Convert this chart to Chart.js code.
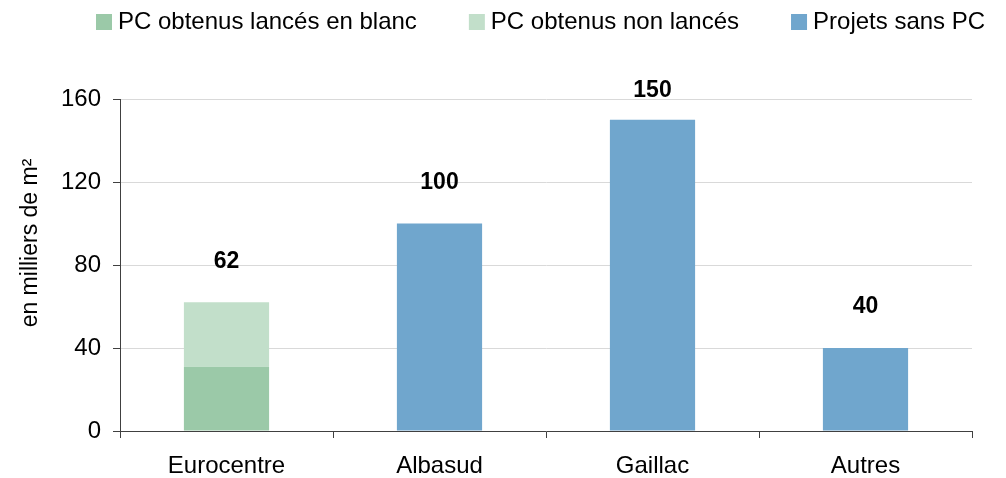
<!DOCTYPE html>
<html><head><meta charset="utf-8">
<script src="https://cdn.jsdelivr.net/npm/chart.js@4/dist/chart.umd.min.js"></script>
<style>html,body{margin:0;padding:0;background:#fff;}#wrap{width:1006px;height:478px;}</style>
</head><body><div id="wrap"><canvas id="c" width="1006" height="478"></canvas></div>
<script>
const categories = ["Eurocentre", "Albasud", "Gaillac", "Autres"];
const pcLances = [31, 0, 0, 0];
const pcNonLances = [31, 0, 0, 0];
const sansPC = [0, 100, 150, 40];
const seriesNames = ["PC obtenus lancés en blanc", "PC obtenus non lancés", "Projets sans PC"];
const seriesColors = ['#9bc9a8', '#c2dfca', '#70a6cd'];
const yTicks = [0, 40, 80, 120, 160];
const yTitle = "en milliers de m²";

const FONT = "'Liberation Sans', Arial, sans-serif";

const totalsPlugin = {
  id: 'totals',
  afterDatasetsDraw(chart) {
    const ctx = chart.ctx;
    const xs = chart.scales.x, ys = chart.scales.y;
    ctx.save();
    ctx.font = "bold 23px " + FONT;
    ctx.fillStyle = "#000";
    ctx.textAlign = "center";
    ctx.textBaseline = "middle";
    categories.forEach((c, i) => {
      const total = pcLances[i] + pcNonLances[i] + sansPC[i];
      const x = xs.getPixelForValue(i);
      let y = ys.getPixelForValue(total) - 41;
      if (y < 91) y = 91;
      ctx.fillText(String(total), x, y);
    });
    ctx.restore();
  }
};

const legendAndTitlePlugin = {
  id: 'legendTitle',
  afterDraw(chart) {
    const ctx = chart.ctx;
    ctx.save();
    ctx.font = "24px " + FONT;
    ctx.textBaseline = "middle";
    ctx.textAlign = "left";
    let x = 96;
    const cy = 22;
    const box = 16, gapText = 6, gapItem = 52;
    seriesNames.forEach((name, i) => {
      ctx.fillStyle = chart.data.datasets[i].backgroundColor;
      ctx.fillRect(x, cy - 8, box, box);
      ctx.fillStyle = '#000';
      ctx.fillText(name, x + box + gapText, cy);
      x += box + gapText + ctx.measureText(name).width + gapItem;
    });
    ctx.translate(31, 243);
    ctx.rotate(-Math.PI / 2);
    ctx.textAlign = "center";
    ctx.font = "23px " + FONT;
    ctx.fillText(yTitle, 0, 0);
    ctx.restore();
  }
};

new Chart(document.getElementById('c'), {
  type: 'bar',
  data: {
    labels: categories,
    datasets: [
      { label: seriesNames[0], data: pcLances, backgroundColor: seriesColors[0] },
      { label: seriesNames[1], data: pcNonLances, backgroundColor: seriesColors[1] },
      { label: seriesNames[2], data: sansPC, backgroundColor: seriesColors[2] }
    ]
  },
  options: {
    responsive: false,
    animation: false,
    devicePixelRatio: 1,
    layout: { padding: { left: 0, right: 34, top: 99, bottom: 0 } },
    datasets: { bar: { categoryPercentage: 0.4, barPercentage: 1.0 } },
    plugins: {
      legend: { display: false },
      tooltip: { enabled: false }
    },
    scales: {
      x: {
        stacked: true,
        grid: { offset: true, drawOnChartArea: false, drawTicks: true, tickLength: 7, tickColor: '#404040', tickWidth: 1 },
        border: { color: '#404040', width: 1 },
        ticks: { font: { family: FONT, size: 24 }, color: '#000', padding: 14 },
        afterFit(s) { s.height = 47; }
      },
      y: {
        stacked: true,
        min: 0, max: 160,
        afterBuildTicks(s) { s.ticks = yTicks.map(v => ({ value: v })); },
        grid: { color: '#d9d9d9', tickColor: '#404040', tickLength: 7, lineWidth: 1 },
        border: { color: '#404040', width: 1 },
        ticks: { font: { family: FONT, size: 24 }, color: '#000', padding: 12 },
        afterFit(s) { s.width = 120; }
      }
    }
  },
  plugins: [totalsPlugin, legendAndTitlePlugin]
});
</script></body></html>
